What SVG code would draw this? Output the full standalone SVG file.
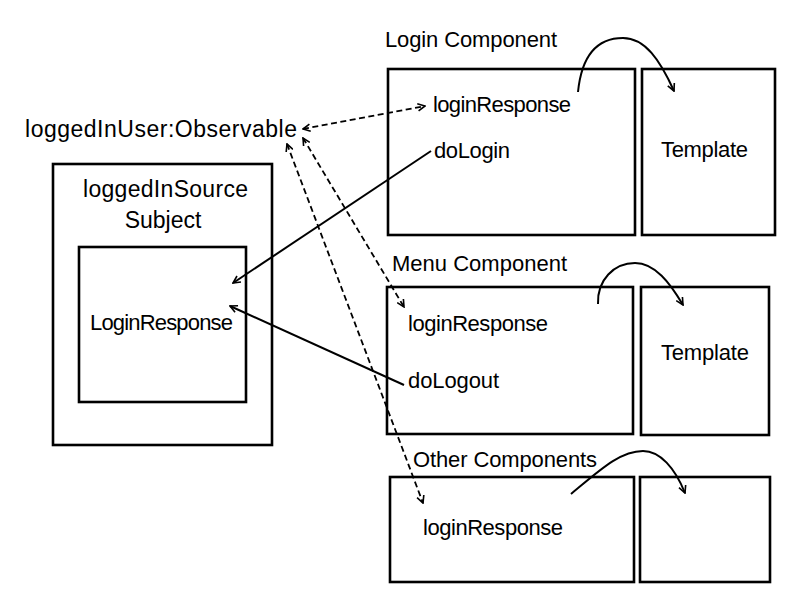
<svg xmlns="http://www.w3.org/2000/svg" width="800" height="600" viewBox="0 0 800 600">
<style>
.box{fill:none;stroke:#000;stroke-width:2.6}
.t{font-family:"Liberation Sans",Arial,sans-serif;font-size:22px;fill:#000}
.b{font-size:23px}
.c{fill:none;stroke:#000;stroke-width:2}
.d{fill:none;stroke:#000;stroke-width:1.8;stroke-dasharray:6,3.5}
</style>
<defs>
<marker id="ah" viewBox="0 0 10 10" refX="9" refY="5" markerWidth="9" markerHeight="9" orient="auto-start-reverse" markerUnits="userSpaceOnUse">
<path d="M1,1 L9,5 L1,9" fill="none" stroke="#000" stroke-width="1.8" stroke-dasharray="none"/>
</marker>
</defs>
<rect width="800" height="600" fill="#fff"/>
<g id="observable"><text class="t b" x="25" y="137" textLength="272">loggedInUser:Observable</text></g>
<g id="subject">
<rect class="box" x="53" y="164" width="219" height="281"/>
<text class="t b" x="83" y="197" textLength="165">loggedInSource</text>
<text class="t b" x="163" y="228" text-anchor="middle">Subject</text>
</g>
<g id="loginresponse-store">
<rect class="box" x="79" y="247" width="167" height="155"/>
<text class="t" x="90" y="330" textLength="143">LoginResponse</text>
</g>
<g id="login-component">
<text class="t" x="385" y="47" textLength="172">Login Component</text>
<rect class="box" x="388" y="69" width="247" height="166"/>
<text class="t" x="433" y="112" textLength="138">loginResponse</text>
<text class="t" x="434" y="158" textLength="76">doLogin</text>
</g>
<g id="login-template">
<rect class="box" x="642" y="69" width="133" height="166"/>
<text class="t" x="661" y="157" textLength="87">Template</text>
</g>
<g id="menu-component">
<text class="t" x="392" y="271" textLength="175">Menu Component</text>
<rect class="box" x="387" y="287" width="246" height="147"/>
<text class="t" x="408" y="331" textLength="140">loginResponse</text>
<text class="t" x="408" y="388" textLength="91">doLogout</text>
</g>
<g id="menu-template">
<rect class="box" x="641" y="287" width="128" height="148"/>
<text class="t" x="661" y="360" textLength="88">Template</text>
</g>
<g id="other-components">
<text class="t" x="413" y="467" textLength="184">Other Components</text>
<rect class="box" x="390" y="477" width="244" height="105"/>
<text class="t" x="423" y="535" textLength="140">loginResponse</text>
</g>
<g id="other-template">
<rect class="box" x="640" y="477" width="130" height="105"/>
</g>
<g id="connectors">
<path class="d" d="M303,129 L425,106" marker-start="url(#ah)" marker-end="url(#ah)"/>
<path class="d" d="M303,138 L404,307" marker-start="url(#ah)" marker-end="url(#ah)"/>
<path class="d" d="M287,144 L423,503" marker-start="url(#ah)" marker-end="url(#ah)"/>
<path class="c" d="M431,151 L233,283" marker-end="url(#ah)"/>
<path class="c" d="M404,385 L230,306" marker-end="url(#ah)"/>
<path class="c" d="M578,92 C582,52 600,38 623,38 C645,38 660,60 674,91" marker-end="url(#ah)"/>
<path class="c" d="M598,304 C597,280 614,263 635,263 C655,263 670,283 683,305" marker-end="url(#ah)"/>
<path class="c" d="M571,494 C600,470 620,451 643,451 C660,451 675,468 685,493" marker-end="url(#ah)"/>
</g>
</svg>
